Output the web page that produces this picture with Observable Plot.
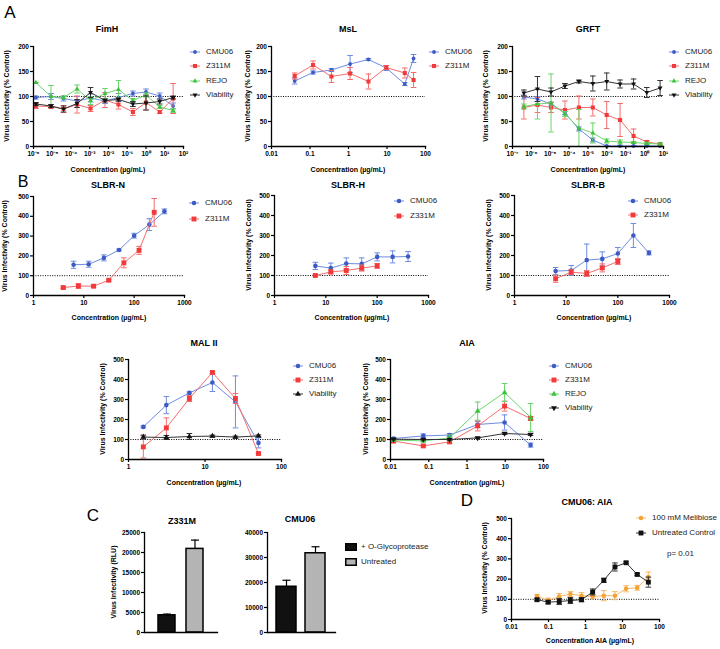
<!DOCTYPE html>
<html><head><meta charset="utf-8">
<script src="https://cdn.jsdelivr.net/npm/d3@7"></script>
<script src="https://cdn.jsdelivr.net/npm/@observablehq/plot@0.6"></script>
<style>
body{margin:0;background:#fff;}
#root{position:relative;width:720px;height:649px;overflow:hidden;font-family:"Liberation Sans",Arial,sans-serif;color:#000;background:#fff;}
#root svg{position:absolute;overflow:visible;background:transparent;}
</style></head><body><div id="root"></div>
<script>
// ================= DATA =================
// Row A
const fimhTicks = [1e-6,1e-5,1e-4,1e-3,1e-2,1e-1,1,10,100];
const fimhConc = [1.34e-6,8.6e-6,4.0e-5,2.1e-4,1.1e-3,6.5e-3,0.034,0.20,1.0,5.4,28];
const fimhCMU06 = [98,100,96,91,97,91,98,106,109,101,81];
const fimhCMU06Err = [3,6,5,9,8,5,8,5,6,6,6];
const fimhZ311M = [81,80,75,84,76,93,84,69,88,69,96];
const fimhZ311MErr = [5,4,7,17,6,15,9,7,15,3,30];
const fimhREJO = [128,100,98,115,92,106,114,92,103,79,72];
const fimhREJOErr = [0,22,3,8,8,10,18,4,4,3,4];
const fimhViab = [85,81,75,86,108,92,94,85,87,90,98];
const fimhViabErr = [3,3,6,8,10,3,3,5,14,5,3];

const mslTicks = [0.01,0.1,1,10,100];
const mslConc = [0.04,0.12,0.36,1.1,3.3,9.6,29,49];
const mslCMU06 = [131,148,153,165,174,157,125,176];
const mslCMU06Err = [6,3,3,17,2,5,3,8];
const mslZ311M = [141,163,140,146,130,158,147,133];
const mslZ311MErr = [6,8,12,12,15,4,10,15];

const grftTicks = [1e-7,1e-6,1e-5,1e-4,1e-3,1e-2,1e-1,1,10];
const grftConc = [4e-7,2.1e-6,1.1e-5,6e-5,3.3e-4,1.8e-3,9.8e-3,0.05,0.26,1.3,6.6];
const grftCMU06 = [99,95,85,67,35,13,1,1,1,1,1];
const grftCMU06Err = [4,5,4,3,4,4,1,1,1,1,1];
const grftZ311M = [78,83,78,73,78,78,63,53,21,9,5];
const grftZ311MErr = [23,15,10,18,23,17,27,33,14,3,2];
const grftREJO = [80,85,87,65,37,27,11,9,8,6,5];
const grftREJOErr = [5,30,58,5,37,20,4,4,2,2,2];
const grftViab = [107,115,109,121,130,126,130,125,125,108,117];
const grftViabErr = [6,25,8,5,3,15,17,8,10,10,15];

// Row B
const slbrTicks = [1,10,100,1000];
const slbrConcCMU06 = [6.25,12.5,25,50,100,200,400];
const slbrConcZ = [3.9,7.8,15.6,31.25,62.5,125,250];
const slbrConcZ5 = [6.25,12.5,25,50,100];
const slbrnCMU06 = [155,158,190,230,302,358,425];
const slbrnCMU06Err = [18,15,15,5,12,30,12];
const slbrnZ331M = [40,48,47,77,165,228,420];
const slbrnZ331MErr = [5,12,5,5,25,20,70];
const slbrhCMU06 = [148,137,160,158,193,193,195];
const slbrhCMU06Err = [18,25,28,30,20,30,25];
const slbrhZ331M = [100,118,125,137,148];
const slbrhZ331MErr = [3,10,20,15,12];
const slbrbCMU06 = [122,125,177,183,210,300,213];
const slbrbCMU06Err = [18,25,80,35,30,60,10];
const slbrbZ331M = [84,117,110,138,170];
const slbrbZ331MErr = [18,12,15,20,15];

const mal2Ticks = [1,10,100];
const mal2Conc = [1.5625,3.125,6.25,12.5,25,50];
const mal2CMU06 = [163,272,333,385,288,83];
const mal2CMU06Err = [5,43,5,45,130,25];
const mal2Z331M = [63,158,305,435,305,30];
const mal2Z331MErr = [55,50,15,5,25,5];
const mal2Viab = [112,110,115,117,112,118];
const mal2ViabErr = [10,10,15,5,5,5];

const aiaTicks = [0.01,0.1,1,10,100];
const aiaConc = [0.012,0.072,0.35,1.9,9.6,46];
const aiaCMU06 = [105,118,122,175,185,72];
const aiaCMU06Err = [5,10,8,15,38,10];
const aiaZ331M = [92,68,88,168,267,205];
const aiaZ331MErr = [5,5,8,25,25,10];
const aiaREJO = [97,93,108,242,335,210];
const aiaREJOErr = [5,5,15,45,45,70];
const aiaViab = [102,100,100,108,130,125];
const aiaViabErr = [3,3,3,3,5,5];

// Panel C
const cTreatments = ["+ O-Glycoprotease","Untreated"];
const cZ331M = [4300,20900];
const cZ331MErr = [300,2200];
const cCMU06 = [18300,31700];
const cCMU06Err = [2600,2600];

// Panel D
const dTicks = [0.01,0.1,1,10,100];
const dConc = [0.049,0.098,0.195,0.39,0.78,1.56,3.125,6.25,12.5,25,50];
const dMelibiose = [116,94,114,126,118,114,118,118,152,157,210];
const dMelibioseErr = [8,12,15,12,15,10,25,20,15,12,25];
const dControl = [98,86,89,94,98,136,194,260,281,223,185];
const dControlErr = [5,8,15,15,10,15,10,20,5,5,25];

// ================= STYLE =================
const triDown = {draw(ctx,size){const s=Math.sqrt(size*4/Math.sqrt(3)),h=s*Math.sqrt(3)/2;ctx.moveTo(-s/2,-h/3);ctx.lineTo(s/2,-h/3);ctx.lineTo(0,2*h/3);ctx.closePath();}};
const capSym = {draw(ctx,size){const r=Math.sqrt(size/Math.PI);ctx.moveTo(-r,0);ctx.lineTo(r,0);}};
const S = {
  CMU06:{name:"CMU06",color:"#3D5BC2",line:"#6E8CE2",symbol:d3.symbolCircle,r:1.9},
  Z311M:{name:"Z311M",color:"#F23A3A",line:"#F56C6C",symbol:d3.symbolSquare,r:2.3},
  Z331M:{name:"Z331M",color:"#F23A3A",line:"#F56C6C",symbol:d3.symbolSquare,r:2.3},
  REJO:{name:"REJO",color:"#3DC23D",line:"#6BD46B",symbol:d3.symbolTriangle,r:1.8},
  ViabD:{name:"Viability",color:"#111",line:"#333",symbol:triDown,r:1.8},
  ViabU:{name:"Viability",color:"#111",line:"#333",symbol:d3.symbolTriangle,r:1.8},
  Mel:{name:"100 mM Melibiose",color:"#F5A236",line:"#F7B866",symbol:d3.symbolCircle,r:1.9},
  Ctrl:{name:"Untreated Control",color:"#111",line:"#333",symbol:d3.symbolSquare,r:2.3}
};
const FONT = "'Liberation Sans', Arial, sans-serif";
const root = document.getElementById("root");
const supMap = {"-":"\u207B","0":"\u2070","1":"\u00B9","2":"\u00B2","3":"\u00B3","4":"\u2074","5":"\u2075","6":"\u2076","7":"\u2077","8":"\u2078","9":"\u2079"};
const powFmt = d => "10" + String(Math.round(Math.log10(d))).split("").map(c => supMap[c]).join("");
const numFmt = d => String(d);

function place(el, left, top){ el.style.left = left + "px"; el.style.top = top + "px"; root.append(el); }

function text(str, x, y, o = {}){
  const {size = 8, weight = "normal", anchor = "middle", rotate = false, color = "#000"} = o;
  const d = document.createElement("div");
  d.textContent = str;
  const tx = anchor === "middle" ? "-50%" : anchor === "start" ? "0" : "-100%";
  d.style.cssText = `position:absolute;left:${x}px;top:${y}px;white-space:nowrap;line-height:1;font-size:${size}px;font-weight:${weight};color:${color};font-family:${FONT};transform:translate(${tx},-50%)${rotate ? " rotate(-90deg)" : ""};`;
  root.append(d);
}

function legend(x, y, dy, entries, k = 1){
  entries.forEach((s, i) => {
    const svg = d3.create("svg").attr("width", 14).attr("height", 10);
    svg.append("line").attr("x1", 2).attr("x2", 12).attr("y1", 5).attr("y2", 5).attr("stroke", s.line).attr("stroke-width", 1);
    const size = Math.PI * (s.r * k) ** 2;
    svg.append("path").attr("transform", "translate(7,5)").attr("d", d3.symbol(s.symbol, size)()).attr("fill", s.color);
    place(svg.node(), x - 7, y + i * dy - 5);
    text(s.name, x + 11, y + i * dy, {size: 8, anchor: "start", color: "#222"});
  });
}

function lineChart(p){
  const {x0, x1, y0, y1, xDomain, yDomain, xTicks, xFormat, yTicks, series, k = 1} = p;
  const mL = 34, mR = 6, mT = 6, mB = 16;
  const ymin = yDomain[0];
  const marks = [Plot.ruleY([100], {stroke: "#000", strokeWidth: 1, strokeDasharray: "1,1.4"})];
  for (const s of series){
    const st = s.style;
    const data = s.x.map((x, i) => ({x, y: s.y[i], e: s.e[i]}));
    marks.push(
      Plot.line(data, {x: "x", y: "y", stroke: st.line, strokeWidth: 1}),
      Plot.ruleX(data, {x: "x", y1: d => Math.max(ymin, d.y - d.e), y2: d => d.y + d.e, stroke: st.line, strokeWidth: 1}),
      Plot.dot(data, {x: "x", y: d => d.y + d.e, symbol: capSym, r: 2.8, stroke: st.line, fill: "none", strokeWidth: 1}),
      Plot.dot(data.filter(d => d.y - d.e >= ymin), {x: "x", y: d => d.y - d.e, symbol: capSym, r: 2.8, stroke: st.line, fill: "none", strokeWidth: 1}),
      Plot.dot(data, {x: "x", y: "y", symbol: st.symbol, r: st.r * k, fill: st.color, stroke: "none"})
    );
  }
  marks.push(
    Plot.frame({anchor: "left", stroke: "#000", strokeWidth: 1.3}),
    Plot.frame({anchor: "bottom", stroke: "#000", strokeWidth: 1.3}),
    Plot.axisX({ticks: xTicks, tickFormat: xFormat, tickSize: 3, tickPadding: 1.5, label: null, strokeWidth: 1.2}),
    Plot.axisY({ticks: yTicks, tickFormat: numFmt, tickSize: 3, tickPadding: 1.5, label: null, strokeWidth: 1.2})
  );
  const chart = Plot.plot({
    width: x1 - x0 + mL + mR, height: y1 - y0 + mT + mB,
    marginLeft: mL, marginRight: mR, marginTop: mT, marginBottom: mB,
    x: {type: "log", domain: xDomain},
    y: {domain: yDomain},
    style: {fontFamily: FONT, fontSize: "6.5px", fontWeight: "bold", background: "transparent", color: "#000", overflow: "visible"},
    marks
  });
  place(chart, x0 - mL, y0 - mT);
}

function barChart(p){
  const {x0, x1, y0, y1, yMax, yTicks, values, errs, pi, po} = p;
  const mL = 34, mR = 6, mT = 6, mB = 10;
  const data = cTreatments.map((t, i) => ({t, v: values[i], e: errs[i]}));
  const chart = Plot.plot({
    width: x1 - x0 + mL + mR, height: y1 - y0 + mT + mB,
    marginLeft: mL, marginRight: mR, marginTop: mT, marginBottom: mB,
    x: {type: "band", domain: cTreatments, paddingInner: pi, paddingOuter: po, axis: null},
    y: {domain: [0, yMax]},
    color: {domain: cTreatments, range: ["#111111", "#b4b4b4"]},
    style: {fontFamily: FONT, fontSize: "6.5px", fontWeight: "bold", background: "transparent", color: "#000", overflow: "visible"},
    marks: [
      Plot.ruleX(data, {x: "t", y1: "v", y2: d => d.v + d.e, stroke: "#000", strokeWidth: 1.2}),
      Plot.dot(data, {x: "t", y: d => d.v + d.e, symbol: capSym, r: 4, stroke: "#000", strokeWidth: 1.2}),
      Plot.barY(data, {x: "t", y: "v", fill: "t", stroke: "#000", strokeWidth: 1.5}),
      Plot.frame({anchor: "left", stroke: "#000", strokeWidth: 1.3}),
      Plot.frame({anchor: "bottom", stroke: "#000", strokeWidth: 1.3}),
      Plot.axisY({ticks: yTicks, tickFormat: numFmt, tickSize: 3, tickPadding: 1.5, label: null, strokeWidth: 1.2})
    ]
  });
  place(chart, x0 - mL, y0 - mT);
}

const YLAB = "Virus Infectivity (% Control)";
const XLAB = "Concentration (\u00B5g/mL)";
const tOpt = {size: 9, weight: "bold"};
const aOpt = {size: 7, weight: "bold"};
const yOpt = {size: 7, weight: "bold", rotate: true};

// ================= ROW A =================
lineChart({x0: 33, x1: 183, y0: 46, y1: 146, xDomain: [1e-6, 100], yDomain: [0, 200], xTicks: fimhTicks, xFormat: powFmt, yTicks: [0,50,100,150,200],
  series: [
    {style: S.CMU06, x: fimhConc, y: fimhCMU06, e: fimhCMU06Err},
    {style: S.Z311M, x: fimhConc, y: fimhZ311M, e: fimhZ311MErr},
    {style: S.REJO, x: fimhConc, y: fimhREJO, e: fimhREJOErr},
    {style: S.ViabD, x: fimhConc, y: fimhViab, e: fimhViabErr}
  ]});
text("FimH", 107, 29, tOpt);
text(XLAB, 108, 169, aOpt);
text(YLAB, 6, 96, yOpt);
legend(195, 52, 14.4, [S.CMU06, S.Z311M, S.REJO, S.ViabD]);

lineChart({x0: 271, x1: 425, y0: 46, y1: 146, xDomain: [0.01, 100], yDomain: [0, 200], xTicks: mslTicks, xFormat: numFmt, yTicks: [0,50,100,150,200],
  series: [
    {style: S.CMU06, x: mslConc, y: mslCMU06, e: mslCMU06Err},
    {style: S.Z311M, x: mslConc, y: mslZ311M, e: mslZ311MErr}
  ]});
text("MsL", 348, 29, tOpt);
text(XLAB, 348, 169, aOpt);
text(YLAB, 247, 96, yOpt);
legend(434, 52, 14.4, [S.CMU06, S.Z311M]);

lineChart({x0: 512, x1: 663, y0: 46, y1: 146, xDomain: [1e-7, 10], yDomain: [0, 200], xTicks: grftTicks, xFormat: powFmt, yTicks: [0,50,100,150,200],
  series: [
    {style: S.CMU06, x: grftConc, y: grftCMU06, e: grftCMU06Err},
    {style: S.Z311M, x: grftConc, y: grftZ311M, e: grftZ311MErr},
    {style: S.REJO, x: grftConc, y: grftREJO, e: grftREJOErr},
    {style: S.ViabD, x: grftConc, y: grftViab, e: grftViabErr}
  ]});
text("GRFT", 588, 29, tOpt);
text(XLAB, 588, 169, aOpt);
text(YLAB, 485, 96, yOpt);
legend(674, 52, 14.4, [S.CMU06, S.Z311M, S.REJO, S.ViabD]);

// ================= ROW B =================
const kB = 1.2;
lineChart({x0: 33, x1: 184, y0: 196, y1: 295, xDomain: [1, 1000], yDomain: [0, 500], xTicks: slbrTicks, xFormat: numFmt, yTicks: [0,100,200,300,400,500], k: kB,
  series: [
    {style: S.CMU06, x: slbrConcCMU06, y: slbrnCMU06, e: slbrnCMU06Err},
    {style: S.Z331M, x: slbrConcZ, y: slbrnZ331M, e: slbrnZ331MErr}
  ]});
text("SLBR-N", 108, 185, tOpt);
text(XLAB, 109, 317, aOpt);
text(YLAB, 4, 246, yOpt);
legend(194, 203, 16, [S.CMU06, S.Z311M], kB);

lineChart({x0: 274, x1: 428, y0: 195, y1: 295, xDomain: [1, 1000], yDomain: [0, 500], xTicks: slbrTicks, xFormat: numFmt, yTicks: [0,100,200,300,400,500], k: kB,
  series: [
    {style: S.CMU06, x: slbrConcCMU06, y: slbrhCMU06, e: slbrhCMU06Err},
    {style: S.Z331M, x: slbrConcZ5, y: slbrhZ331M, e: slbrhZ331MErr}
  ]});
text("SLBR-H", 348, 185, tOpt);
text(XLAB, 352, 317, aOpt);
text(YLAB, 248, 245, yOpt);
legend(399, 201, 15, [S.CMU06, S.Z331M], kB);

lineChart({x0: 514, x1: 669, y0: 195, y1: 295, xDomain: [1, 1000], yDomain: [0, 500], xTicks: slbrTicks, xFormat: numFmt, yTicks: [0,100,200,300,400,500], k: kB,
  series: [
    {style: S.CMU06, x: slbrConcCMU06, y: slbrbCMU06, e: slbrbCMU06Err},
    {style: S.Z331M, x: slbrConcZ5, y: slbrbZ331M, e: slbrbZ331MErr}
  ]});
text("SLBR-B", 588, 185, tOpt);
text(XLAB, 594, 317, aOpt);
text(YLAB, 488, 245, yOpt);
legend(633, 201, 14, [S.CMU06, S.Z331M], kB);

// ================= MAL II / AIA =================
lineChart({x0: 128, x1: 281, y0: 359, y1: 459, xDomain: [1, 100], yDomain: [0, 500], xTicks: mal2Ticks, xFormat: numFmt, yTicks: [0,100,200,300,400,500], k: kB,
  series: [
    {style: S.CMU06, x: mal2Conc, y: mal2CMU06, e: mal2CMU06Err},
    {style: S.Z311M, x: mal2Conc, y: mal2Z331M, e: mal2Z331MErr},
    {style: S.ViabU, x: mal2Conc, y: mal2Viab, e: mal2ViabErr}
  ]});
text("MAL II", 204, 343, tOpt);
text(XLAB, 204, 482, aOpt);
text(YLAB, 102, 409, yOpt);
legend(298, 366, 14, [S.CMU06, S.Z311M, S.ViabU], kB);

lineChart({x0: 390, x1: 543, y0: 359, y1: 459, xDomain: [0.01, 100], yDomain: [0, 500], xTicks: aiaTicks, xFormat: numFmt, yTicks: [0,100,200,300,400,500], k: kB,
  series: [
    {style: S.CMU06, x: aiaConc, y: aiaCMU06, e: aiaCMU06Err},
    {style: S.Z331M, x: aiaConc, y: aiaZ331M, e: aiaZ331MErr},
    {style: S.REJO, x: aiaConc, y: aiaREJO, e: aiaREJOErr},
    {style: S.ViabD, x: aiaConc, y: aiaViab, e: aiaViabErr}
  ]});
text("AIA", 467, 343, tOpt);
text(XLAB, 467, 482, aOpt);
text(YLAB, 365, 409, yOpt);
legend(554, 366, 14, [S.CMU06, S.Z331M, S.REJO, S.ViabD], kB);

// ================= C =================
barChart({x0: 144, x1: 217, y0: 532, y1: 632, yMax: 25000, yTicks: [0,5000,10000,15000,20000,25000], values: cZ331M, errs: cZ331MErr, pi: 0.38, po: 0.45});
text("Z331M", 182, 521, tOpt);
text("Virus Infectivity (RLU)", 113, 582, yOpt);
barChart({x0: 267, x1: 335, y0: 532, y1: 632, yMax: 40000, yTicks: [0,10000,20000,30000,40000], values: cCMU06, errs: cCMU06Err, pi: 0.31, po: 0.31});
text("CMU06", 300, 519, tOpt);
// legend C
[["#111111", cTreatments[0]], ["#b4b4b4", cTreatments[1]]].forEach(([c, name], i) => {
  const svg = d3.create("svg").attr("width", 12).attr("height", 8);
  svg.append("rect").attr("x", 0.75).attr("y", 0.75).attr("width", 10.5).attr("height", 6.5).attr("fill", c).attr("stroke", "#000").attr("stroke-width", 1.5);
  place(svg.node(), 345, 543 + i * 15);
  text(name, 361, 547 + i * 15, {size: 8, anchor: "start", color: "#222"});
});

// ================= D =================
lineChart({x0: 511, x1: 659, y0: 518, y1: 619, xDomain: [0.01, 100], yDomain: [0, 500], xTicks: dTicks, xFormat: numFmt, yTicks: [0,100,200,300,400,500], k: kB,
  series: [
    {style: S.Mel, x: dConc, y: dMelibiose, e: dMelibioseErr},
    {style: S.Ctrl, x: dConc, y: dControl, e: dControlErr}
  ]});
text("CMU06: AIA", 587, 502, tOpt);
text("Concentration AIA (\u00B5g/mL)", 590, 640, aOpt);
text(YLAB, 484, 568, yOpt);
legend(641, 518, 15, [S.Mel, S.Ctrl], kB);
text("p= 0.01", 667, 554, {size: 8, anchor: "start", color: "#222"});

// ================= Panel letters =================
text("A", 10, 12, {size: 17});
text("B", 23, 182, {size: 16});
text("C", 93, 515, {size: 17});
text("D", 467, 500, {size: 17});
</script></body></html>
